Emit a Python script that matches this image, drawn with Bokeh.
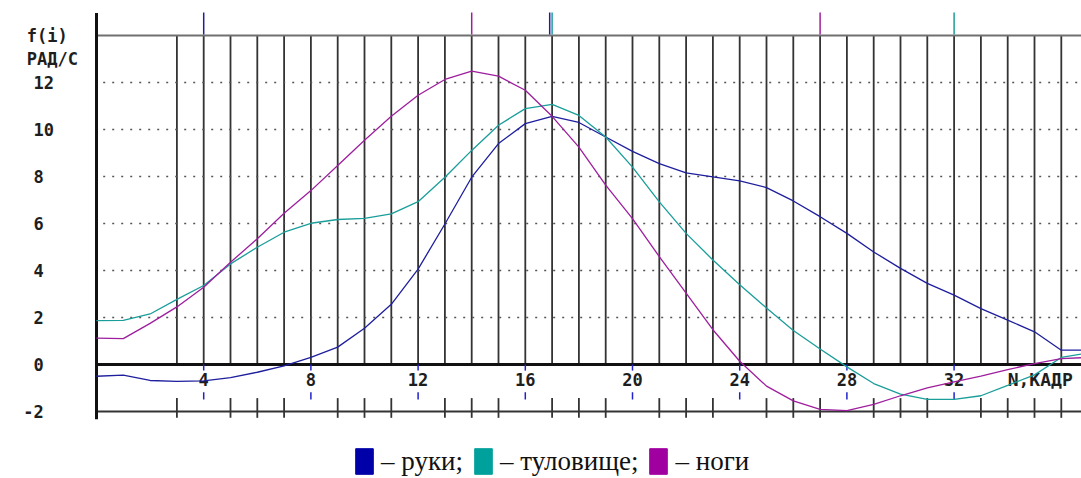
import math
from bokeh.plotting import figure
from bokeh.models import Range1d, Legend, LegendItem
from bokeh.core.properties import value
from bokeh.embed import file_html
from bokeh.resources import INLINE

# ---------------- data ----------------
frames = list(range(0, 38))
arms = [-0.50, -0.45, -0.68, -0.72, -0.70, -0.56, -0.33, -0.06, 0.30, 0.74,
        1.54, 2.56, 4.06, 5.98, 7.97, 9.40, 10.25, 10.56, 10.30, 9.68,
        9.07, 8.55, 8.15, 7.98, 7.81, 7.53, 6.96, 6.29, 5.58, 4.79,
        4.09, 3.45, 2.95, 2.38, 1.89, 1.39, 0.61, 0.61]
torso = [1.87, 1.88, 2.15, 2.77, 3.36, 4.28, 4.99, 5.63, 6.01, 6.17,
         6.22, 6.41, 6.93, 7.97, 9.11, 10.18, 10.89, 11.07, 10.60, 9.68,
         8.40, 6.92, 5.58, 4.45, 3.39, 2.40, 1.45, 0.66, -0.10, -0.81,
         -1.26, -1.48, -1.48, -1.33, -0.89, -0.44, 0.30, 0.49]
legs = [1.12, 1.10, 1.75, 2.45, 3.29, 4.35, 5.35, 6.44, 7.40, 8.47,
        9.54, 10.56, 11.46, 12.13, 12.48, 12.27, 11.67, 10.56, 9.25, 7.63,
        6.21, 4.59, 3.04, 1.48, 0.14, -0.92, -1.55, -1.91, -1.96, -1.70,
        -1.33, -0.99, -0.74, -0.49, -0.22, 0.04, 0.25, 0.30]

y_ticks = [-2, 0, 2, 4, 6, 8, 10, 12]
x_label_ticks = [4, 8, 12, 16, 20, 24, 28, 32]
grid_frames = list(range(3, 37))
dotted_levels = [2, 4, 6, 8, 10, 12]
top_level = 14
bottom_level = -2
y_title = ["f(i)", "РАД/С"]
x_title = "N,КАДР"
# extreme markers above the top line: (frame, series)
marker_frames = [4, 14, 17, 17, 27, 32]
marker_series = ["arms", "legs", "arms", "torso", "legs", "torso"]

series_names = ["– руки;", "– туловище;", "– ноги"]
line_colors = {"arms": "#1e1e9e", "torso": "#1a9e9a", "legs": "#9e1e9e"}
legend_colors = ["#0000a8", "#00a09c", "#a000a0"]

# ---------------- figure ----------------
PX_X = 26.8   # pixels per frame
PX_Y = 23.5   # pixels per unit
ORIGIN_X = 96
ORIGIN_Y = 364
x0 = -ORIGIN_X / PX_X
x1 = (1081 - ORIGIN_X) / PX_X
y1 = ORIGIN_Y / PX_Y
y0 = (ORIGIN_Y - 478) / PX_Y

p = figure(width=1081, height=478, x_range=Range1d(x0, x1), y_range=Range1d(y0, y1),
           output_backend="svg", toolbar_location=None,
           x_axis_location=None, y_axis_location=None,
           min_border_left=0, min_border_right=0, min_border_top=0, min_border_bottom=0)
p.outline_line_color = None
p.grid.visible = False
p.background_fill_color = "white"
p.border_fill_color = "white"

mono = value("DejaVu Sans Mono")
txt_col = "#1e1e1e"
FS = "17px"

# vertical grid lines
n = len(grid_frames)
p.segment(x0=grid_frames, y0=[0] * n, x1=grid_frames, y1=[top_level] * n,
          line_color="#333333", line_width=1.8)

# dotted horizontal grid
xr_end = frames[-1]
m = len(dotted_levels)
p.segment(x0=[0.25] * m, y0=dotted_levels, x1=[xr_end] * m, y1=dotted_levels,
          line_color="#555555", line_width=1.6, line_dash="2 7")

# top line, zero line, bottom line (from the left axis to the right)
p.segment(x0=[0], y0=[top_level], x1=[xr_end], y1=[top_level], line_color="#707070", line_width=2)
p.segment(x0=[0], y0=[0], x1=[xr_end], y1=[0], line_color="#111111", line_width=3)
p.segment(x0=[0], y0=[bottom_level], x1=[xr_end], y1=[bottom_level], line_color="#333333", line_width=2)

# left thick axis line
p.segment(x0=[0], y0=[bottom_level - 0.33], x1=[0], y1=[top_level + 0.96],
          line_color="#111111", line_width=3)

# bottom ticks
plain = [f for f in grid_frames if f not in x_label_ticks]
k = len(plain)
p.segment(x0=plain, y0=[bottom_level + 0.57] * k, x1=plain, y1=[bottom_level - 0.27] * k,
          line_color="#333333", line_width=1.8)
L = len(x_label_ticks)
p.segment(x0=x_label_ticks, y0=[bottom_level + 0.82] * L, x1=x_label_ticks,
          y1=[bottom_level + 0.51] * L, line_color="#2222cc", line_width=1.5)
p.segment(x0=x_label_ticks, y0=[0] * L, x1=x_label_ticks, y1=[-0.26] * L,
          line_color="#2222cc", line_width=1.5)

# x tick labels
p.text(x=x_label_ticks, y=[0] * L, text=[str(t) for t in x_label_ticks],
       y_offset=15, text_align="center", text_baseline="middle",
       text_font=mono, text_font_style="bold", text_font_size=FS, text_color=txt_col)
p.text(x=[34.0], y=[0], text=[x_title], y_offset=15, text_align="left", text_baseline="middle",
       text_font=mono, text_font_style="bold", text_font_size="18px", text_color=txt_col)

# y tick labels (digits aligned; minus sign hangs to the left)
ylab_x = -2.35
char_w = 10.2
p.text(x=[ylab_x] * len(y_ticks), y=y_ticks, text=[str(t) for t in y_ticks],
       x_offset=[-char_w if t < 0 else 0 for t in y_ticks],
       text_align="left", text_baseline="middle",
       text_font=mono, text_font_style="bold", text_font_size=FS, text_color=txt_col)

# y-axis title (two lines above the top tick)
p.text(x=[-2.6, -2.6], y=[top_level, top_level - 0.98], text=y_title,
       text_align="left", text_baseline="middle",
       text_font=mono, text_font_style="bold", text_font_size=FS, text_color=txt_col)

# top markers
mx, mc = [], []
seen = {}
for f, s in zip(marker_frames, marker_series):
    c = seen.get(f, 0)
    seen[f] = c + 1
    mx.append(f - 0.09 * (1 - c) if marker_frames.count(f) > 1 else f)
    mc.append(line_colors[s])
p.segment(x0=mx, y0=[top_level + 0.04] * len(mx), x1=mx, y1=[top_level + 0.98] * len(mx),
          line_color=mc, line_width=1.5)

# curves
p.line(frames, arms, line_color=line_colors["arms"], line_width=1.3)
p.line(frames, torso, line_color=line_colors["torso"], line_width=1.3)
p.line(frames, legs, line_color=line_colors["legs"], line_width=1.3)

# legend (swatch renderers carry no visible data)
nan = float("nan")
items = []
for name, col in zip(series_names, legend_colors):
    r = p.quad(left=[nan], right=[nan], top=[nan], bottom=[nan], fill_color=col, line_color=col)
    items.append(LegendItem(label=name, renderers=[r]))
leg = Legend(items=items, orientation="horizontal", location=(353, 1),
             glyph_width=22, glyph_height=32, label_text_font="Liberation Serif",
             label_text_font_size="27px", label_text_color="#111111", label_standoff=6,
             spacing=9, padding=0, margin=0, border_line_color=None, background_fill_alpha=0)
p.add_layout(leg)

open("out.html", "w").write(file_html(p, INLINE))
